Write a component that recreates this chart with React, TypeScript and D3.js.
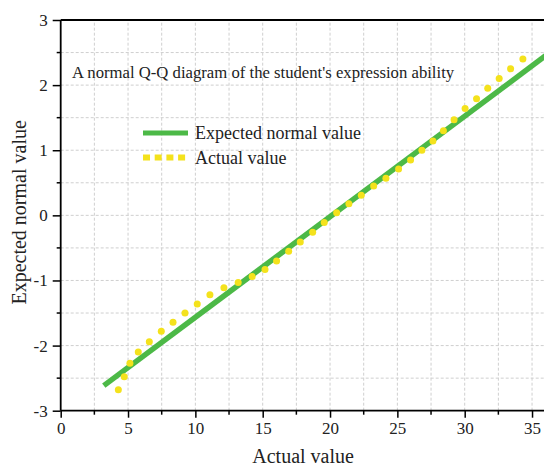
import React, { useEffect, useRef } from 'react';
import * as d3 from 'd3';

// Actual values (sorted) and their expected normal values
const actualValues = [
  4.28, 4.72, 5.14, 5.76, 6.58, 7.47, 8.34, 9.23, 10.14, 11.08, 12.12, 13.18,
  14.22, 15.17, 16.03, 16.93, 17.79, 18.71, 19.57, 20.49, 21.4, 22.32, 23.24,
  24.15, 25.09, 25.98, 26.82, 27.64, 28.42, 29.21, 30.03, 30.88, 31.71, 32.56,
  33.41, 34.32,
];
const expectedValues = [
  -2.68, -2.48, -2.27, -2.1, -1.94, -1.78, -1.64, -1.5, -1.36, -1.22, -1.11,
  -1.03, -0.94, -0.83, -0.7, -0.55, -0.41, -0.26, -0.11, 0.04, 0.18, 0.31,
  0.45, 0.57, 0.71, 0.85, 1.0, 1.14, 1.3, 1.47, 1.64, 1.79, 1.95, 2.1, 2.25,
  2.4,
];

// Reference (expected normal) line end points
const lineX = [3.2, 36];
const lineY = [-2.615, 2.45];

const xTicks = [0, 5, 10, 15, 20, 25, 30, 35];
const yTicks = [-3, -2, -1, 0, 1, 2, 3];
const xMinor = [2.5, 7.5, 12.5, 17.5, 22.5, 27.5, 32.5];
const yMinor = [-2.5, -1.5, -0.5, 0.5, 1.5, 2.5];

const title = "A normal Q-Q diagram of the student's expression ability";
const legendLabels = ['Expected normal value', 'Actual value'];

const GREEN = '#4cb947';
const YELLOW = '#f4e21c';
const FONT = '"Liberation Serif", "Times New Roman", serif';

const W = 544;
const H = 466;

const QQChart: React.FC = () => {
  const svgRef = useRef<SVGSVGElement | null>(null);

  useEffect(() => {
    const svgEl = svgRef.current;
    if (!svgEl) return;

    const margin = { top: 20, left: 60.7, bottom: 410.7, right: 545.5 };

    const x = d3.scaleLinear().domain([0, 36]).range([margin.left, margin.right]);
    const y = d3.scaleLinear().domain([-3, 3]).range([margin.bottom, margin.top]);

    const svg = d3.select(svgEl);
    svg.selectAll('*').remove();

    svg.append('rect').attr('width', W).attr('height', H).attr('fill', '#fff');

    // Gridlines (dashed, at every minor step)
    const grid = svg.append('g');
    const gx = d3.range(2.5, 36, 2.5);
    const gy = d3.range(-2.5, 3, 0.5);
    grid.selectAll('line.gx')
      .data(gx)
      .join('line')
      .attr('class', 'gx')
      .attr('x1', (d) => x(d))
      .attr('x2', (d) => x(d))
      .attr('y1', y(-3))
      .attr('y2', y(3))
      .attr('stroke', '#cfcfcf')
      .attr('stroke-width', 1)
      .attr('stroke-dasharray', '3,2');
    grid.selectAll('line.gy')
      .data(gy)
      .join('line')
      .attr('class', 'gy')
      .attr('x1', x(0))
      .attr('x2', x(36))
      .attr('y1', (d) => y(d))
      .attr('y2', (d) => y(d))
      .attr('stroke', '#cfcfcf')
      .attr('stroke-width', 1)
      .attr('stroke-dasharray', '3,2');

    // Title inside plot
    svg.append('text')
      .attr('x', 72)
      .attr('y', 78)
      .attr('font-family', FONT)
      .attr('font-size', 16.7)
      .attr('fill', '#222')
      .text(title);

    // Expected normal line
    const lineData = lineX.map((v, i) => [v, lineY[i]] as [number, number]);
    svg.append('defs')
      .append('clipPath')
      .attr('id', 'plot-clip')
      .append('rect')
      .attr('x', margin.left)
      .attr('y', margin.top)
      .attr('width', margin.right - margin.left)
      .attr('height', margin.bottom - margin.top);

    const plot = svg.append('g').attr('clip-path', 'url(#plot-clip)');
    plot.append('path')
      .datum(lineData)
      .attr('d', d3.line<[number, number]>().x((d) => x(d[0])).y((d) => y(d[1])))
      .attr('stroke', GREEN)
      .attr('stroke-width', 5.5)
      .attr('fill', 'none');

    // Actual value points
    plot.selectAll('circle')
      .data(actualValues)
      .join('circle')
      .attr('cx', (d) => x(d))
      .attr('cy', (_, i) => y(expectedValues[i]))
      .attr('r', 3.5)
      .attr('fill', YELLOW);

    // Axes
    const xAxis = svg.append('g').attr('transform', `translate(0,${margin.bottom})`);
    xAxis.call(
      d3.axisBottom(x).tickValues(xTicks).tickSize(7).tickPadding(4).tickFormat((d) => String(d))
    );
    xAxis.selectAll('line.minor')
      .data(xMinor)
      .join('line')
      .attr('class', 'minor')
      .attr('x1', (d) => x(d))
      .attr('x2', (d) => x(d))
      .attr('y1', 0)
      .attr('y2', 4)
      .attr('stroke', '#000')
      .attr('stroke-width', 1.5);

    const yAxis = svg.append('g').attr('transform', `translate(${margin.left},0)`);
    yAxis.call(
      d3.axisLeft(y).tickValues(yTicks).tickSize(8).tickPadding(5).tickFormat((d) => String(d))
    );
    yAxis.selectAll('line.minor')
      .data(yMinor)
      .join('line')
      .attr('class', 'minor')
      .attr('x1', 0)
      .attr('x2', -4)
      .attr('y1', (d) => y(d))
      .attr('y2', (d) => y(d))
      .attr('stroke', '#000')
      .attr('stroke-width', 1.5);

    [xAxis, yAxis].forEach((a) => {
      a.selectAll('path.domain').attr('stroke', '#000').attr('stroke-width', 1.8);
      a.selectAll('.tick line').attr('stroke', '#000').attr('stroke-width', 1.5);
      a.selectAll('text')
        .attr('font-family', FONT)
        .attr('font-size', 17)
        .attr('fill', '#222');
    });
    xAxis.select('path.domain').attr('d', `M${margin.left},0H${margin.right}`);
    yAxis.select('path.domain').attr('d', `M0,${margin.bottom}V${margin.top}`);

    // Top border
    svg.append('line')
      .attr('x1', margin.left)
      .attr('x2', margin.right)
      .attr('y1', margin.top)
      .attr('y2', margin.top)
      .attr('stroke', '#000')
      .attr('stroke-width', 1.8);

    // Axis titles
    svg.append('text')
      .attr('x', (margin.left + margin.right) / 2)
      .attr('y', 463)
      .attr('text-anchor', 'middle')
      .attr('font-family', FONT)
      .attr('font-size', 20)
      .attr('fill', '#222')
      .text('Actual value');

    svg.append('text')
      .attr('transform', `translate(26,${y(0) - 3}) rotate(-90)`)
      .attr('text-anchor', 'middle')
      .attr('font-family', FONT)
      .attr('font-size', 20)
      .attr('fill', '#222')
      .text('Expected normal value');

    // Legend
    const legend = svg.append('g');
    legend.append('line')
      .attr('x1', 143)
      .attr('x2', 188)
      .attr('y1', 133)
      .attr('y2', 133)
      .attr('stroke', GREEN)
      .attr('stroke-width', 5);
    legend.append('line')
      .attr('x1', 143)
      .attr('x2', 189)
      .attr('y1', 157.5)
      .attr('y2', 157.5)
      .attr('stroke', YELLOW)
      .attr('stroke-width', 6)
      .attr('stroke-dasharray', '7,4.7');
    legend.selectAll('text')
      .data(legendLabels)
      .join('text')
      .attr('x', 195)
      .attr('y', (_, i) => 139 + i * 24.5)
      .attr('font-family', FONT)
      .attr('font-size', 18)
      .attr('fill', '#222')
      .text((d) => d);
  }, []);

  return <svg ref={svgRef} width={W} height={H} style={{ display: 'block' }} />;
};

export default function App() {
  return (
    <div style={{ position: 'fixed', left: 0, top: 0, width: W, height: H, overflow: 'hidden', background: '#fff' }}>
      <QQChart />
    </div>
  );
}
